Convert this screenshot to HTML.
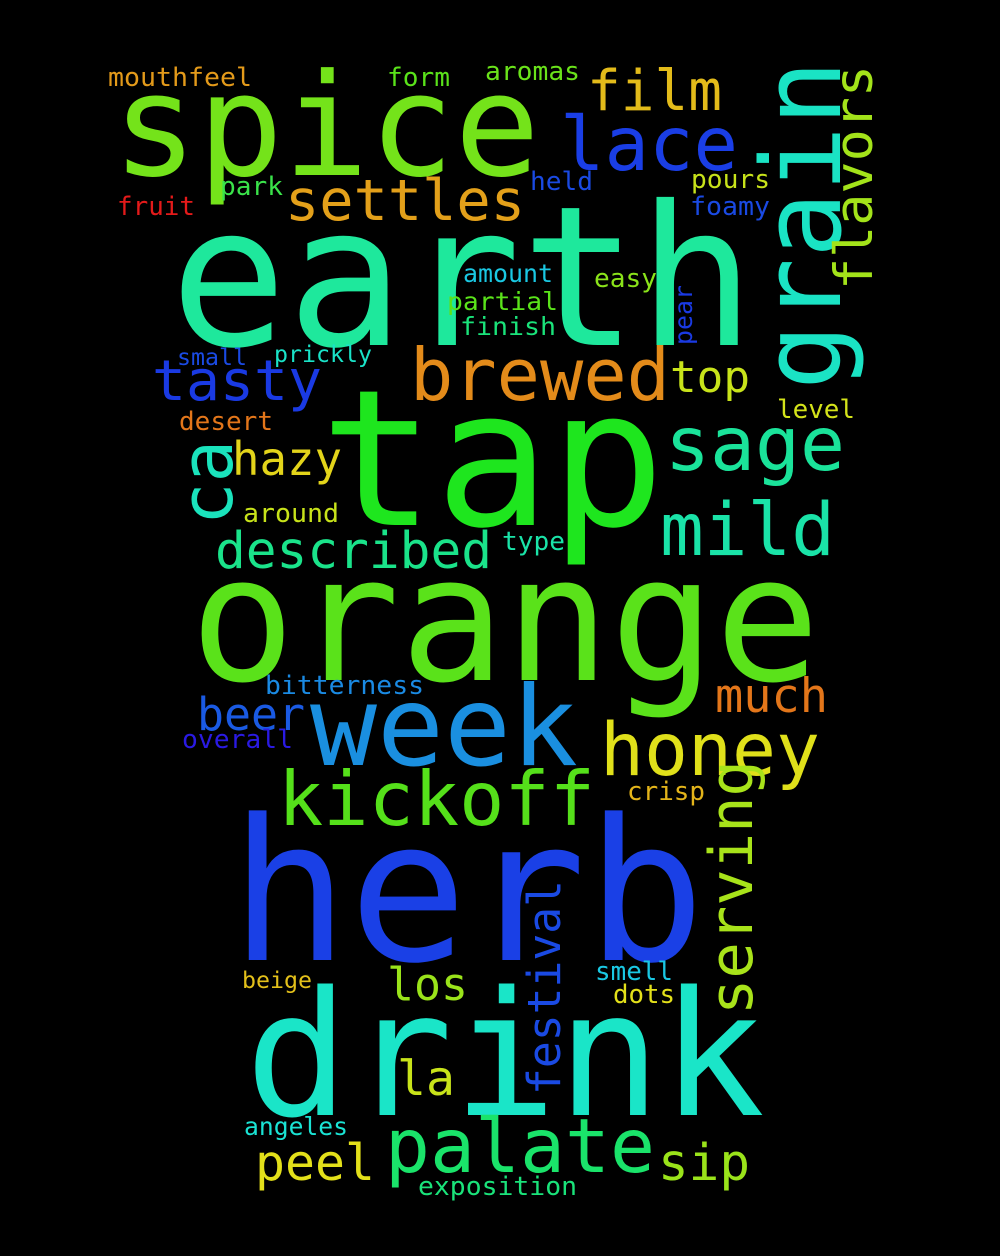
<!DOCTYPE html>
<html><head><meta charset="utf-8"><style>
html,body{margin:0;padding:0;background:#000;}
svg{display:block;}
text{font-family:"DejaVu Sans Mono","Liberation Mono",monospace;}
</style></head><body>
<svg width="1000" height="1256" viewBox="0 0 1000 1256" xmlns="http://www.w3.org/2000/svg">
<rect width="1000" height="1256" fill="#000"/>
<g id="words"></g>
</svg>
<script>
// [word, x, baselineY, fontSize, width, color, vertical]
const words = [
 ["earth",170,345,195,585,"#1ee89c",0],
 ["tap",320,525,190,345,"#1ee61e",0],
 ["orange",190,680,174,630,"#5ae21a",0],
 ["herb",230,960,197,475,"#1a40e6",0],
 ["drink",245,1115,173,520,"#1ae5c8",0],
 ["spice",112,175,142,428,"#74e31a",0],
 ["week",310,765,111,268,"#1a8fe0",0],
 ["grain",840,390,110,330,"#1ae3c4",1],
 ["brewed",410,400,72,260,"#e38b1a",0],
 ["honey",600,775,73,220,"#e0e01a",0],
 ["kickoff",278,825,75,317,"#55e01a",0],
 ["lace",560,170,75,178,"#1a3ee6",0],
 ["settles",285,220,57,240,"#e3a01a",0],
 ["film",587,110,56,135,"#e3bb1a",0],
 ["flavors",872,290,53,225,"#a3e31a",1],
 ["tasty",152,400,56,170,"#1a3ae3",0],
 ["sage",665,470,75,180,"#1ae39a",0],
 ["mild",660,555,73,175,"#1ae3a8",0],
 ["top",670,392,44,80,"#c8e31a",0],
 ["hazy",232,475,46,110,"#e3d41a",0],
 ["ca",232,525,72,85,"#1ae3bc",1],
 ["described",215,568,51,277,"#1ae38a",0],
 ["much",715,712,47,113,"#e3761a",0],
 ["beer",197,730,45,108,"#1a5ae3",0],
 ["serving",752,1015,60,255,"#a8e31a",1],
 ["festival",560,1095,45,215,"#1a4ae3",1],
 ["los",387,1000,45,81,"#9ae31a",0],
 ["la",397,1095,48,58,"#c8e31a",0],
 ["peel",255,1180,50,120,"#e3e01a",0],
 ["palate",385,1172,75,270,"#1ae36a",0],
 ["sip",658,1180,51,92,"#9ae31a",0],
 ["pear",692,345,25,60,"#1a3ae3",1],
 ["mouthfeel",108,86,26,144,"#e39a1a",0],
 ["form",387,86,26,63,"#5ae31a",0],
 ["aromas",485,80,26,95,"#6ae31a",0],
 ["fruit",117,215,26,78,"#e31a1a",0],
 ["park",220,195,26,63,"#3ae34a",0],
 ["held",530,190,26,63,"#1a4ae3",0],
 ["pours",691,188,26,79,"#c8e31a",0],
 ["foamy",690,215,26,80,"#1a4ae3",0],
 ["amount",463,282,25,90,"#1ac8e3",0],
 ["easy",594,287,26,63,"#8ae31a",0],
 ["partial",447,310,25,111,"#5ae31a",0],
 ["finish",460,335,25,96,"#1ae37a",0],
 ["small",177,365,23,70,"#1a4ae3",0],
 ["prickly",274,362,23,98,"#1ae3c8",0],
 ["desert",179,430,26,94,"#e3761a",0],
 ["level",777,418,26,78,"#d4e31a",0],
 ["around",243,522,26,96,"#c8e31a",0],
 ["type",502,550,26,63,"#1ae3a8",0],
 ["bitterness",265,694,26,159,"#1a8ae3",0],
 ["overall",182,748,26,111,"#2a1ae3",0],
 ["crisp",627,800,26,78,"#e3b41a",0],
 ["smell",595,980,26,78,"#1ac8e3",0],
 ["beige",242,988,23,70,"#e3c01a",0],
 ["dots",613,1003,26,62,"#e3e01a",0],
 ["angeles",244,1135,25,104,"#1ae3d4",0],
 ["exposition",418,1195,26,159,"#1ae37a",0]
];
const g = document.getElementById('words');
const NS = "http://www.w3.org/2000/svg";
words.forEach(w => {
  const t = document.createElementNS(NS, 'text');
  t.textContent = w[0];
  t.setAttribute('font-size', w[3]);
  t.setAttribute('fill', w[5]);
  t.setAttribute('textLength', w[4]);
  t.setAttribute('lengthAdjust', 'spacingAndGlyphs');
  if (w[6]) {
    t.setAttribute('transform', 'translate(' + w[1] + ',' + w[2] + ') rotate(-90)');
    t.setAttribute('x', 0); t.setAttribute('y', 0);
  } else {
    t.setAttribute('x', w[1]); t.setAttribute('y', w[2]);
  }
  
  
  g.appendChild(t);
});
</script>
</body></html>
